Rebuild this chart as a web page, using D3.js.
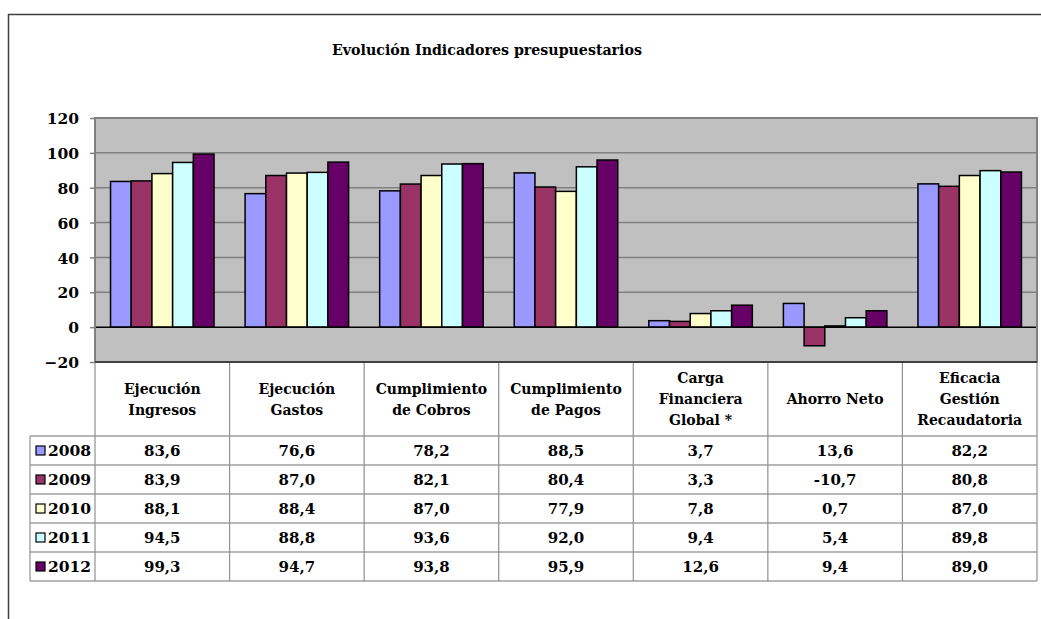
<!DOCTYPE html>
<html>
<head>
<meta charset="utf-8">
<script src="https://cdn.jsdelivr.net/npm/d3@7"></script>
<style>
  html, body { margin: 0; padding: 0; background: #fff; }
  svg { display: block; }
  text { font-family: "DejaVu Serif", "Liberation Serif", serif; font-weight: bold; fill: #000; }
</style>
</head>
<body>
<svg id="chart" width="1041" height="619"></svg>
<script>
const title = "Evolución Indicadores presupuestarios";
const categories = [
  ["Ejecución", "Ingresos"],
  ["Ejecución", "Gastos"],
  ["Cumplimiento", "de Cobros"],
  ["Cumplimiento", "de Pagos"],
  ["Carga", "Financiera", "Global *"],
  ["Ahorro Neto"],
  ["Eficacia", "Gestión", "Recaudatoria"]
];
const years = ["2008", "2009", "2010", "2011", "2012"];
const colors = ["#9999FF", "#993366", "#FFFFCC", "#CCFFFF", "#660066"];
const v2008 = [83.6, 76.6, 78.2, 88.5, 3.7, 13.6, 82.2];
const v2009 = [83.9, 87.0, 82.1, 80.4, 3.3, -10.7, 80.8];
const v2010 = [88.1, 88.4, 87.0, 77.9, 7.8, 0.7, 87.0];
const v2011 = [94.5, 88.8, 93.6, 92.0, 9.4, 5.4, 89.8];
const v2012 = [99.3, 94.7, 93.8, 95.9, 12.6, 9.4, 89.0];
const yTicks = [-20, 0, 20, 40, 60, 80, 100, 120];

const series = [v2008, v2009, v2010, v2011, v2012];
const catKeys = categories.map((c, i) => "c" + i);

const svg = d3.select("#chart");
const plot = { left: 95, right: 1037, top: 118, bottom: 362 };
const headerBottom = 436;
const rowH = 29;
const tableLeft = 30;

const locale = d3.formatLocale({ decimal: ",", thousands: ".", grouping: [3], currency: ["", "€"], minus: "-" });
const fmt = locale.format(".1f");

// outer frame
svg.append("rect").attr("x", 8.5).attr("y", 14.5).attr("width", 1100).attr("height", 700)
  .attr("fill", "none").attr("stroke", "#404040").attr("stroke-width", 1.5);

// title
svg.append("text").attr("x", 487).attr("y", 55).attr("text-anchor", "middle")
  .style("font-size", "14.2px").text(title);

const x0 = d3.scaleBand().domain(catKeys).range([plot.left, plot.right]).paddingInner(0).paddingOuter(0);
const x1 = d3.scaleBand().domain(years).range([0, x0.bandwidth()]).paddingInner(0).paddingOuter(0.75);
const y = d3.scaleLinear().domain([-20, 120]).range([plot.bottom, plot.top]);

// plot background
svg.append("rect").attr("x", plot.left).attr("y", plot.top)
  .attr("width", plot.right - plot.left).attr("height", plot.bottom - plot.top)
  .attr("fill", "#C0C0C0");

// gridlines
svg.append("g").selectAll("line").data(yTicks.filter(t => t > -20 && t !== 0)).join("line")
  .attr("x1", plot.left).attr("x2", plot.right)
  .attr("y1", d => y(d)).attr("y2", d => y(d))
  .attr("stroke", "#808080").attr("stroke-width", 1.5);

// y axis
const yAxis = d3.axisLeft(y).tickValues(yTicks).tickSize(5).tickPadding(11).tickFormat(d3.format("d"));
const gy = svg.append("g").attr("transform", `translate(${plot.left},0)`).call(yAxis);
gy.attr("font-family", null);
gy.select(".domain").remove();
gy.selectAll(".tick line").attr("stroke", "#808080").attr("stroke-width", 1.5);
gy.selectAll(".tick text").style("font-size", "15.5px")
  .attr("dy", "0.36em").attr("fill", "#000");

// bars
const groups = svg.append("g").selectAll("g").data(catKeys).join("g")
  .attr("transform", d => `translate(${x0(d)},0)`);
groups.selectAll("rect").data((d, i) => series.map((s, j) => ({ year: years[j], v: s[i], j })))
  .join("rect")
  .attr("x", d => x1(d.year))
  .attr("width", x1.bandwidth())
  .attr("y", d => y(Math.max(0, d.v)))
  .attr("height", d => Math.abs(y(d.v) - y(0)))
  .attr("fill", d => colors[d.j])
  .attr("stroke", "#000").attr("stroke-width", 1.5);

// zero line
svg.append("line").attr("x1", plot.left).attr("x2", plot.right)
  .attr("y1", y(0)).attr("y2", y(0)).attr("stroke", "#000").attr("stroke-width", 1.5);

// plot border
svg.append("rect").attr("x", plot.left).attr("y", plot.top)
  .attr("width", plot.right - plot.left).attr("height", plot.bottom - plot.top)
  .attr("fill", "none").attr("stroke", "#808080").attr("stroke-width", 2);

// table
const tbl = svg.append("g");
const tableBottom = headerBottom + rowH * years.length;
const hLines = d3.range(years.length + 1).map(i => headerBottom + i * rowH);
tbl.selectAll("line.h").data(hLines).join("line").attr("class", "h")
  .attr("x1", tableLeft).attr("x2", plot.right)
  .attr("y1", d => d).attr("y2", d => d)
  .attr("stroke", "#707070").attr("stroke-width", 1.2);
const vLines = catKeys.map(k => x0(k)).concat([plot.right]);
tbl.selectAll("line.v").data(vLines).join("line").attr("class", "v")
  .attr("x1", d => d).attr("x2", d => d)
  .attr("y1", plot.bottom).attr("y2", tableBottom)
  .attr("stroke", "#909090").attr("stroke-width", 1.2);
tbl.append("line").attr("x1", tableLeft).attr("x2", tableLeft)
  .attr("y1", headerBottom).attr("y2", tableBottom)
  .attr("stroke", "#909090").attr("stroke-width", 1.2);
svg.append("line").attr("x1", plot.left).attr("x2", plot.right)
  .attr("y1", plot.bottom).attr("y2", plot.bottom).attr("stroke", "#404040").attr("stroke-width", 2);

// header labels
const lineH = 21;
const headerMid = (plot.bottom + headerBottom) / 2;
categories.forEach((lines, i) => {
  const cx = x0(catKeys[i]) + x0.bandwidth() / 2;
  const t = tbl.append("text").attr("text-anchor", "middle").style("font-size", "14px");
  lines.forEach((ln, k) => {
    t.append("tspan").attr("x", cx)
      .attr("y", headerMid + (k - (lines.length - 1) / 2) * lineH)
      .attr("dy", "0.36em").text(ln);
  });
});

// rows
years.forEach((yr, j) => {
  const cy = headerBottom + j * rowH + rowH / 2;
  tbl.append("rect").attr("x", 36).attr("y", cy - 4.5).attr("width", 9).attr("height", 9)
    .attr("fill", colors[j]).attr("stroke", "#000").attr("stroke-width", 1.2);
  tbl.append("text").attr("x", 48).attr("y", cy).attr("dy", "0.36em")
    .style("font-size", "15.5px").text(yr);
  series[j].forEach((v, i) => {
    tbl.append("text").attr("x", x0(catKeys[i]) + x0.bandwidth() / 2).attr("y", cy)
      .attr("dy", "0.36em").attr("text-anchor", "middle").style("font-size", "15px").text(fmt(v));
  });
});
</script>
</body>
</html>
